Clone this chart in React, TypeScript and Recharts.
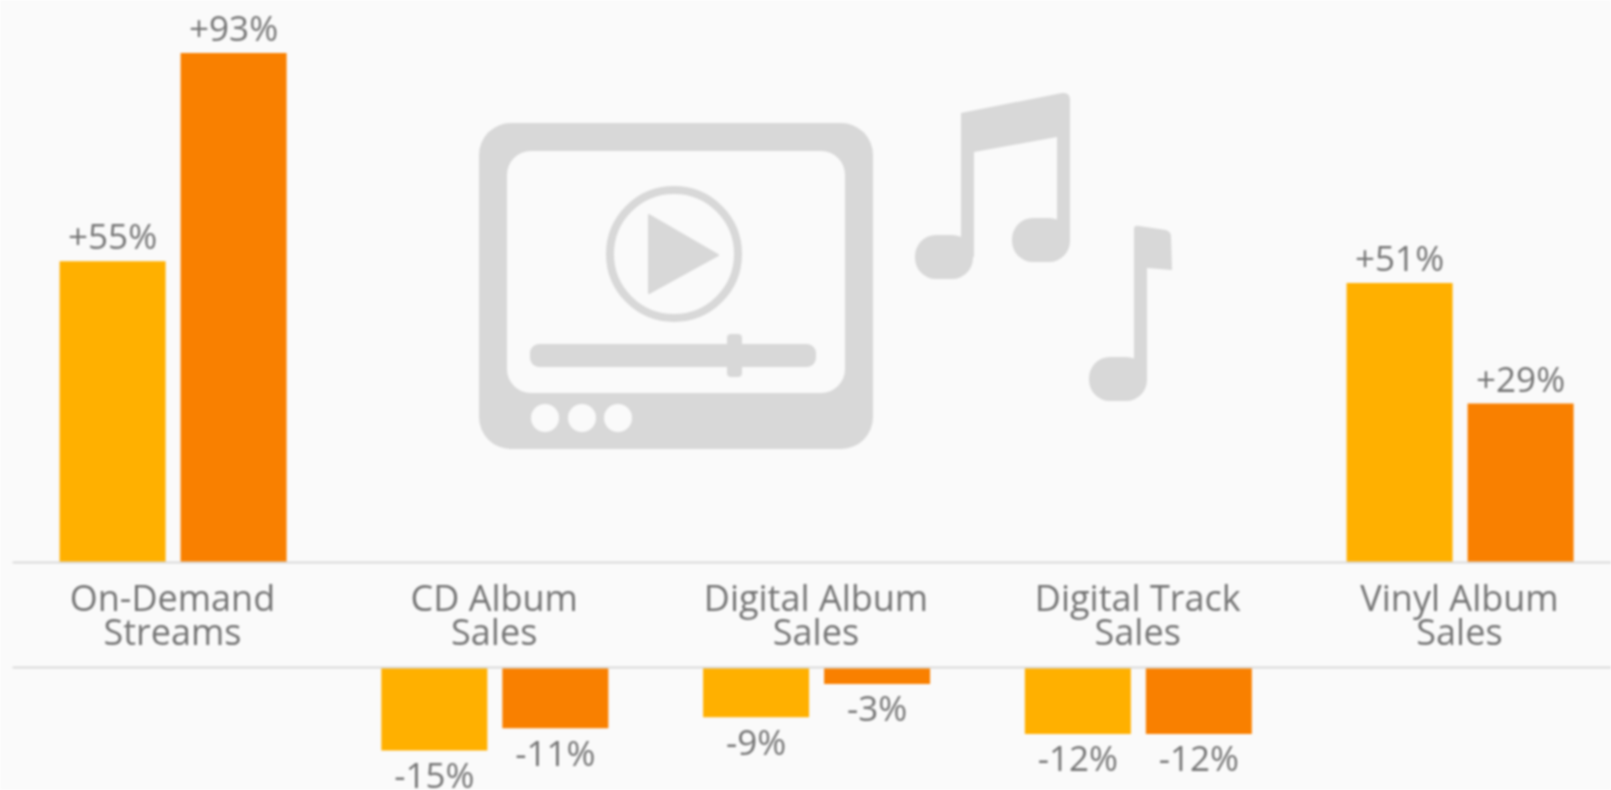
import React from "react";
import { BarChart, Bar, XAxis, YAxis, LabelList } from "recharts";

const categories = [
  "On-Demand\nStreams",
  "CD Album\nSales",
  "Digital Album\nSales",
  "Digital Track\nSales",
  "Vinyl Album\nSales",
];
const seriesA = [55, -15, -9, -12, 51];
const seriesB = [93, -11, -3, -12, 29];

const YELLOW = "#ffb000";
const ORANGE = "#f98000";
const ICON = "#d8d8d8";
const BG = "#fafafa";
const TEXT = "#757575";
const LINE = "#d9d9d9";
const FONT = "'Open Sans', sans-serif";

const positiveRows = categories.map((name, i) => ({
  name,
  a: seriesA[i] > 0 ? seriesA[i] : null,
  b: seriesB[i] > 0 ? seriesB[i] : null,
}));
const negativeRows = categories.map((name, i) => ({
  name,
  a: seriesA[i] < 0 ? seriesA[i] : null,
  b: seriesB[i] < 0 ? seriesB[i] : null,
}));

const fmt = (v: any) => (v == null ? "" : v > 0 ? `+${v}%` : `${v}%`);

const CategoryTick = (props: any) => {
  const { x, y, payload } = props;
  const lines = String(payload.value).split("\n");
  return (
    <text textAnchor="middle" fill={TEXT} fontSize={36} fontFamily={FONT}>
      {lines.map((l: string, i: number) => (
        <tspan key={i} x={x - 1} y={y + 42 + i * 34.5}>
          {l}
        </tspan>
      ))}
    </text>
  );
};

const Icons = () => (
  <svg width={1611} height={790} style={{ position: "absolute", left: 0, top: 0 }}>
    <rect x={479} y={123} width={394} height={326} rx={32} fill={ICON} />
    <rect x={507} y={151} width={338} height={242} rx={24} fill={BG} />
    <circle cx={674} cy={254} r={64} fill="none" stroke={ICON} strokeWidth={8} />
    <path d="M649 215 L718 255 L649 293 Z" fill={ICON} stroke={ICON} strokeWidth={2} strokeLinejoin="round" />
    <rect x={530} y={344} width={286} height={23} rx={9} fill={ICON} />
    <rect x={727} y={334} width={15} height={43} rx={4} fill={ICON} />
    <circle cx={545} cy={418} r={14} fill={BG} />
    <circle cx={582} cy={418} r={14} fill={BG} />
    <circle cx={618} cy={418} r={14} fill={BG} />
    <rect x={915} y={235} width={58} height={44} rx={21} fill={ICON} />
    <rect x={1012} y={218} width={58} height={44} rx={21} fill={ICON} />
    <path d="M961 113 L1062 93 Q1070 92 1070 100 L1070 240 L1057 240 L1057 137 L974 152 L974 257 L961 257 Z" fill={ICON} />
    <rect x={1089} y={357} width={58} height={44} rx={21} fill={ICON} />
    <path d="M1134 378 L1134 229 Q1134 225 1139 226 L1166 230 Q1171 232 1171 236 L1172 270 L1147 268 L1147 378 Z" fill={ICON} />
  </svg>
);

const labelProps = {
  fill: TEXT,
  fontSize: 35,
  fontFamily: FONT,
  formatter: fmt,
};

export default function App() {
  return (
    <div
      style={{
        position: "absolute",
        left: 0,
        top: 0,
        width: 1611,
        height: 790,
        overflow: "hidden",
        background: BG,
        filter: "blur(0.8px)",
      }}
    >
      <Icons />
      <div style={{ position: "absolute", left: 0, top: 0 }}>
        <BarChart
          width={1640}
          height={667.5}
          data={positiveRows}
          margin={{ top: 53, right: 18.65, bottom: 0, left: 12.6 }}
          barSize={106}
          barGap={15}
        >
          <XAxis
            dataKey="name"
            height={105}
            interval={0}
            axisLine={{ stroke: LINE, strokeWidth: 2 }}
            tickLine={false}
            tickMargin={0}
            tick={<CategoryTick />}
          />
          <YAxis hide domain={[0, 93]} />
          <Bar dataKey="a" fill={YELLOW} isAnimationActive={false}>
            <LabelList dataKey="a" position="top" offset={12} {...labelProps} />
          </Bar>
          <Bar dataKey="b" fill={ORANGE} isAnimationActive={false}>
            <LabelList dataKey="b" position="top" offset={12} {...labelProps} />
          </Bar>
        </BarChart>
      </div>
      <div style={{ position: "absolute", left: 0, top: 650 }}>
        <BarChart
          width={1640}
          height={140}
          data={negativeRows}
          margin={{ top: 0, right: 18.65, bottom: 39.5, left: 12.6 }}
          barSize={106}
          barGap={15}
        >
          <XAxis
            dataKey="name"
            orientation="top"
            height={17.5}
            interval={0}
            axisLine={{ stroke: LINE, strokeWidth: 2 }}
            tickLine={false}
            tick={false}
          />
          <YAxis hide domain={[-15, 0]} />
          <Bar dataKey="a" fill={YELLOW} isAnimationActive={false}>
            <LabelList dataKey="a" position="top" offset={12.5} {...labelProps} />
          </Bar>
          <Bar dataKey="b" fill={ORANGE} isAnimationActive={false}>
            <LabelList dataKey="b" position="top" offset={12.5} {...labelProps} />
          </Bar>
        </BarChart>
      </div>
    </div>
  );
}
